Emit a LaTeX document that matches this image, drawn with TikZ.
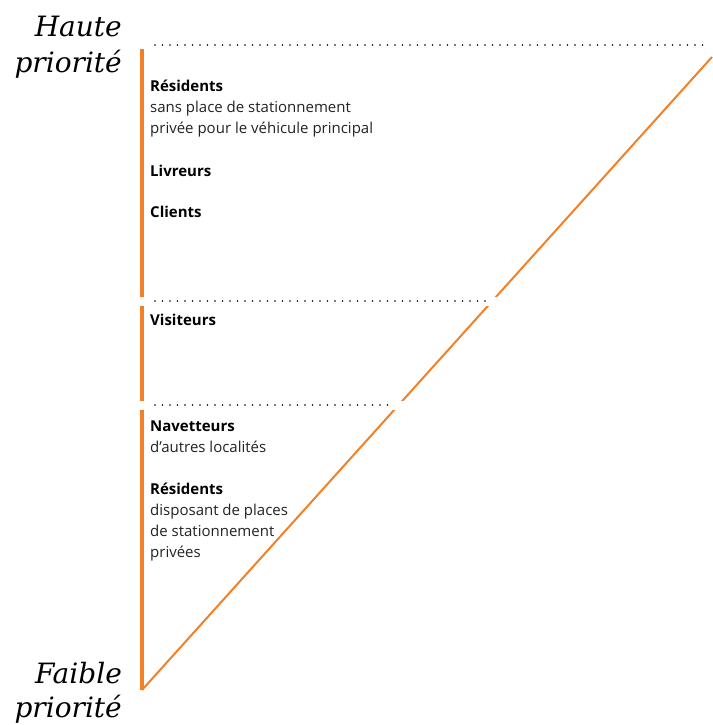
\documentclass[tikz,border=0pt]{standalone}
\usepackage{fontspec}
\setmainfont{DejaVu Serif}
\newfontfamily\bodyfont{Open Sans}
\definecolor{prorange}{RGB}{242,128,38}
\definecolor{txtgray}{RGB}{34,34,34}
\begin{document}
\begin{tikzpicture}[x=1pt,y=-1pt,
  prio/.style={anchor=base east,inner sep=0pt,font=\fontsize{28}{28}\selectfont\itshape,text=black},
  head/.style={anchor=base west,inner sep=0pt,font=\bodyfont\fontsize{15}{15}\selectfont\bfseries,text=black},
  sub/.style={anchor=base west,inner sep=0pt,font=\bodyfont\fontsize{15}{15}\selectfont,text=txtgray},
  bar/.style={draw=prorange,line width=3.5pt},
  diag/.style={draw=prorange,line width=2pt},
  gap/.style={fill=white,draw=none},
  dots/.style={draw=black,line width=1.9pt,line cap=round,dash pattern=on 0pt off 7.5pt}]
\useasboundingbox (0,0) rectangle (712,725);
% geometry
\coordinate (btm) at (142,690);
\coordinate (tr) at (712,57);
\coordinate (bartop) at (142,49);
\draw[diag] (btm) -- (tr);
\draw[bar] (bartop) -- (btm);
% gaps
\fill[gap] (130,296.5) rectangle (712,305.5);
\fill[gap] (130,400.5) rectangle (712,409.5);
% dotted separators
\coordinate (d1a) at (155,45);  \coordinate (d1b) at (705,45);
\coordinate (d2a) at (155,301); \coordinate (d2b) at (486,301);
\coordinate (d3a) at (155,405); \coordinate (d3b) at (389,405);
\draw[dots] (d1a) -- (d1b);
\draw[dots] (d2a) -- (d2b);
\draw[dots] (d3a) -- (d3b);
% priority labels
\node[prio] (haute) at (122,37) {Haute};
\node[prio] (hprio) at (122,72) {priorité};
\node[prio] (faible) at (122,683) {Faible};
\node[prio] (fprio) at (122,717) {priorité};
% group 1
\node[head] (res1) at (150,91) {Résidents};
\node[sub] (res1a) at (150,112) {sans place de stationnement};
\node[sub] (res1b) at (150,133) {privée pour le véhicule principal};
\node[head] (livr) at (150,176) {Livreurs};
\node[head] (cli) at (150,217) {Clients};
% group 2
\node[head] (vis) at (150,325) {Visiteurs};
% group 3
\node[head] (nav) at (150,431) {Navetteurs};
\node[sub] (nava) at (150,452) {d’autres localités};
\node[head] (res2) at (150,494) {Résidents};
\node[sub] (res2a) at (150,515) {disposant de places};
\node[sub] (res2b) at (150,536) {de stationnement};
\node[sub] (res2c) at (150,557) {privées};
\end{tikzpicture}
\end{document}
